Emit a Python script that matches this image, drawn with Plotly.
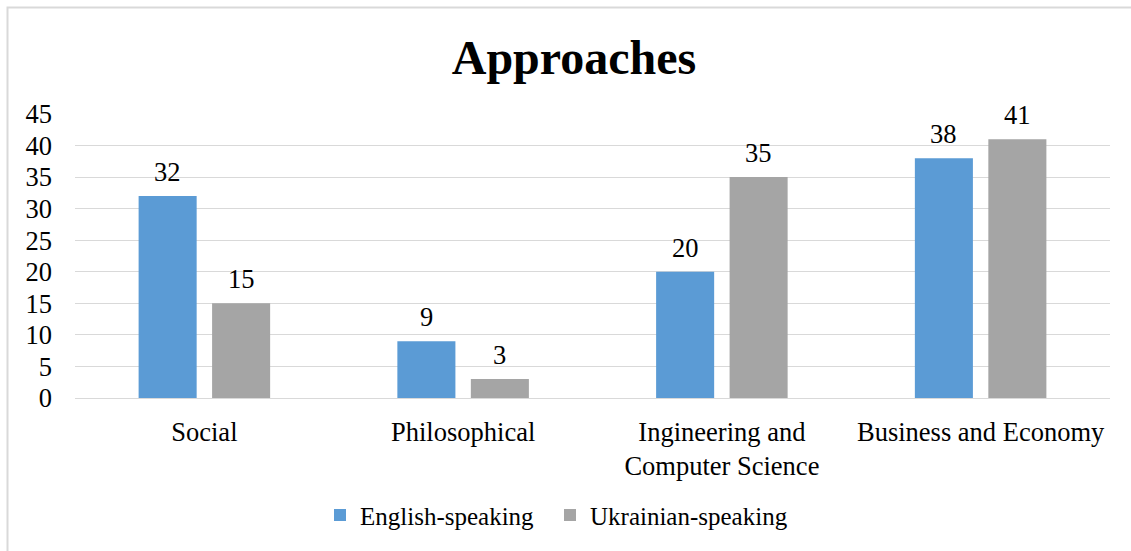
import plotly.graph_objects as go

categories = ["Social", "Philosophical", "Ingineering and<br>Computer Science", "Business and Economy"]
english = [32, 9, 20, 38]
ukrainian = [15, 3, 35, 41]
y_ticks = [0, 5, 10, 15, 20, 25, 30, 35, 40, 45]

FONT = "Liberation Serif"
FS = 26.5

W, H = 1131, 551
L, R, T, B = 75, 21, 114, 149
pw, ph = W - L - R, H - T - B
BARGAP = 0.432
slot = (1 - BARGAP) * (pw / len(categories)) / 2

fig = go.Figure()
fig.add_trace(go.Bar(x=categories, y=english, name="English-speaking",
                     marker=dict(color="#5B9BD5", line=dict(width=0)),
                     legend="legend", showlegend=True))
fig.add_trace(go.Bar(x=categories, y=ukrainian, name="Ukrainian-speaking",
                     marker=dict(color="#A5A5A5", line=dict(width=0)),
                     legend="legend2", showlegend=True))

annotations = []
for vals, shift in ((english, -slot / 2), (ukrainian, slot / 2)):
    for c, v in zip(categories, vals):
        annotations.append(dict(x=c, y=v, xref="x", yref="y", text=str(v),
                                showarrow=False, xshift=shift, yshift=24,
                                yanchor="middle", xanchor="center",
                                font=dict(size=FS, family=FONT, color="black")))

def px_x(p):
    return (p - L) / pw

def px_y(p):
    return (H - B - p) / ph

leg_common = dict(orientation="h", xanchor="left", yanchor="middle",
                  font=dict(size=25, family=FONT), bgcolor="rgba(0,0,0,0)")

fig.update_layout(
    width=W, height=H,
    showlegend=True,
    margin=dict(l=L, r=R, t=T, b=B),
    paper_bgcolor="white", plot_bgcolor="white",
    font=dict(family=FONT, size=FS, color="black"),
    barmode="group", bargap=BARGAP, bargroupgap=0.21,
    title=dict(text="<b>Approaches</b>", x=574 / W, xanchor="center",
               y=1 - 57 / H, yanchor="middle", yref="container",
               font=dict(size=48, family=FONT, color="black")),
    xaxis=dict(showgrid=False, showline=True, linecolor="#D9D9D9", linewidth=1,
               ticks="", tickfont=dict(size=FS, family=FONT), tickangle=0,
               ticklabelstandoff=10, automargin=False),
    yaxis=dict(range=[0, 45], tickvals=y_ticks, showgrid=True, gridcolor="#D9D9D9",
               gridwidth=1, zeroline=False, showline=False, ticks="",
               tickfont=dict(size=FS, family=FONT), ticklabelstandoff=22,
               automargin=False),
    legend=dict(x=px_x(362 - 42), y=px_y(521), **leg_common),
    legend2=dict(x=px_x(592 - 42), y=px_y(521), **leg_common),
    annotations=annotations,
    shapes=[dict(type="rect", xref="paper", yref="paper",
                 x0=px_x(7.5), x1=px_x(1140), y0=px_y(560), y1=px_y(6),
                 line=dict(color="#D9D9D9", width=2), fillcolor="rgba(0,0,0,0)",
                 layer="below")],
)

fig.write_html("out.html", config={"displayModeBar": False},
               post_script="document.body.style.margin='0px';")
